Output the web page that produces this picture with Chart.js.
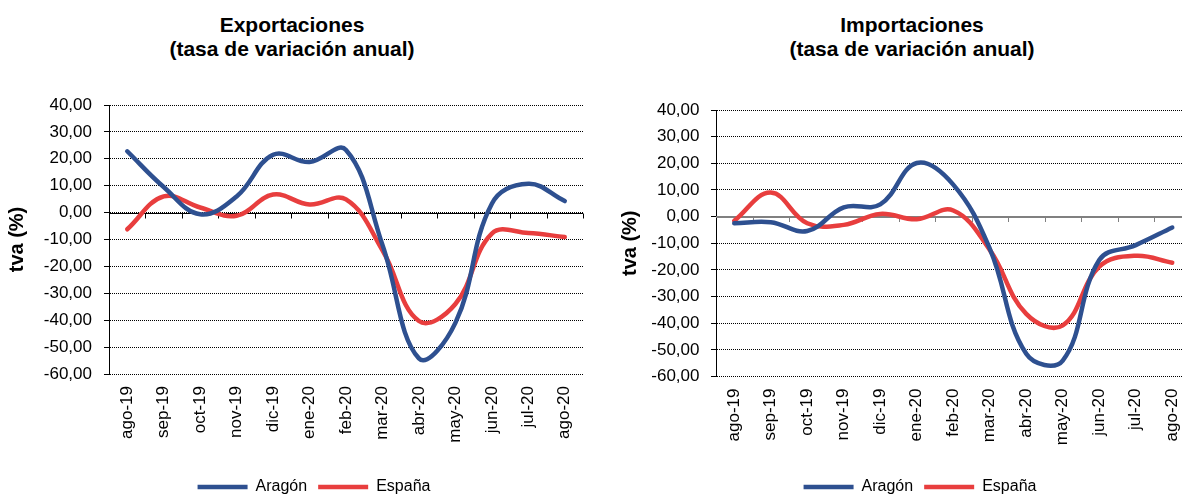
<!DOCTYPE html>
<html>
<head>
<meta charset="utf-8">
<script src="https://cdn.jsdelivr.net/npm/chart.js@4/dist/chart.umd.min.js"></script>
<style>
  html, body { margin: 0; padding: 0; background: #ffffff; }
  body { width: 1182px; height: 495px; overflow: hidden; position: relative; font-family: "Liberation Sans", Arial, sans-serif; }
  .title { position: absolute; width: 400px; text-align: center; font-weight: bold; font-size: 21px; line-height: 24px; color: #000; white-space: nowrap; }
  canvas { position: absolute; top: 0; }
</style>
</head>
<body>
<div class="title" id="t1" style="left:92px; top:13px;">Exportaciones<br>(tasa de variación anual)</div>
<div class="title" id="t2" style="left:712px; top:13px;">Importaciones<br>(tasa de variación anual)</div>
<canvas id="c1" width="628" height="495" style="left:0px; width:628px; height:495px;"></canvas>
<canvas id="c2" width="640" height="495" style="left:600px; width:640px; height:495px;"></canvas>
<script>
// ---- data ----
const categories = ['ago-19','sep-19','oct-19','nov-19','dic-19','ene-20','feb-20','mar-20','abr-20','may-20','jun-20','jul-20','ago-20'];
const seriesNames = ['Aragón', 'España'];
const exportAragon = [22.8, 9.5, -0.6, 6.0, 21.5, 18.8, 23.3, -12.0, -54.2, -41.0, 3.3, 10.7, 4.3];
const exportEspana = [-6.2, 6.0, 1.9, -1.2, 6.7, 3.0, 4.9, -14.0, -40.3, -34.0, -7.8, -7.6, -9.1];
const importAragon = [-2.5, -2.1, -5.4, 3.5, 4.6, 20.1, 12.0, -12.0, -51.5, -54.0, -16.3, -10.7, -4.1];
const importEspana = [-1.6, 9.0, -2.5, -3.1, 1.0, -1.0, 2.3, -12.5, -36.5, -40.8, -18.8, -14.7, -17.3];
const yMin = -60, yMax = 40, yStep = 10;
const yAxisTitle = 'tva (%)';

const FONT = '"Liberation Sans", Arial, sans-serif';
const BLUE = '#2E5090';
const RED = '#E83E3E';

const zeroAxisPlugin = {
  id: 'zeroAxis',
  beforeDatasetsDraw(chart, args, opts) {
    const {ctx, chartArea, scales} = chart;
    const y0 = Math.round(scales.y.getPixelForValue(0)) + (opts.width % 2 ? 0.5 : 0);
    ctx.save();
    ctx.strokeStyle = opts.color;
    ctx.lineWidth = opts.width;
    ctx.beginPath();
    ctx.moveTo(chartArea.left, y0);
    ctx.lineTo(chartArea.right, y0);
    ctx.stroke();
    ctx.lineWidth = 1;
    ctx.beginPath();
    const n = chart.data.labels.length;
    for (let i = 1; i <= n; i++) {
      const x = Math.round(scales.x.getPixelForValue(i - 0.5)) + 0.5;
      ctx.moveTo(x, y0);
      ctx.lineTo(x, y0 + 5);
    }
    ctx.stroke();
    ctx.restore();
  }
};

function fmt(v) { return v.toFixed(2).replace('.', ','); }

function makeChart(id, aragon, espana, L) {
  return new Chart(document.getElementById(id), {
    type: 'line',
    data: {
      labels: categories,
      datasets: [
        { label: seriesNames[0], data: aragon, borderColor: BLUE, backgroundColor: BLUE, borderWidth: 4.5,
          tension: 0.4, pointRadius: 0, borderCapStyle: 'round', borderJoinStyle: 'round', fill: false },
        { label: seriesNames[1], data: espana, borderColor: RED, backgroundColor: RED, borderWidth: 4.5,
          tension: 0.4, pointRadius: 0, borderCapStyle: 'round', borderJoinStyle: 'round', fill: false }
      ]
    },
    options: {
      responsive: false,
      animation: false,
      devicePixelRatio: 1,
      layout: { padding: { top: L.top, left: 0, right: 0, bottom: 0 } },
      plugins: {
        title: { display: false },
        tooltip: { enabled: false },
        zeroAxis: { color: L.zeroColor, width: L.zeroWidth },
        legend: {
          display: true,
          position: 'bottom',
          maxHeight: 27,
          labels: {
            usePointStyle: true,
            pointStyle: 'line',
            pointStyleWidth: 50,
            padding: 11,
            color: '#000',
            font: { family: FONT, size: 16 }
          }
        }
      },
      scales: {
        x: {
          type: 'category',
          offset: true,
          grid: { display: false, drawTicks: false },
          border: { display: false },
          ticks: { autoSkip: false, minRotation: 90, maxRotation: 90, padding: 12, color: '#000',
                   font: { family: FONT, size: 17 } },
          afterFit(s) { s.height = L.xHeight; }
        },
        y: {
          min: yMin, max: yMax,
          grid: { color: '#000', lineWidth: 1, drawTicks: true, tickLength: 5, tickColor: '#000' },
          border: { display: true, color: '#000', width: 1, dash: [1, 1] },
          ticks: { stepSize: yStep, padding: L.tickPad, color: '#000', font: { family: FONT, size: 17 },
                   callback: (v) => fmt(v) },
          title: { display: true, text: yAxisTitle, color: '#000', padding: { top: L.titlePad, bottom: 0 },
                   font: { family: FONT, size: 20, weight: 'bold' } },
          afterFit(s) { s.width = L.yWidth; }
        },
        yRight: {
          position: 'right',
          display: true,
          grid: { display: false, drawTicks: false },
          border: { display: false },
          ticks: { display: false },
          afterFit(s) { s.width = L.rightWidth; }
        }
      }
    },
    plugins: [zeroAxisPlugin]
  });
}

makeChart('c1', exportAragon, exportEspana,
  { top: 105, xHeight: 94, yWidth: 109, rightWidth: 45, tickPad: 12, titlePad: 5.5, zeroColor: '#000', zeroWidth: 1 });
makeChart('c2', importAragon, importEspana,
  { top: 110, xHeight: 91.5, yWidth: 116, rightWidth: 49.5, tickPad: 11.5, titlePad: 18.5, zeroColor: '#808080', zeroWidth: 2 });
</script>
</body>
</html>
